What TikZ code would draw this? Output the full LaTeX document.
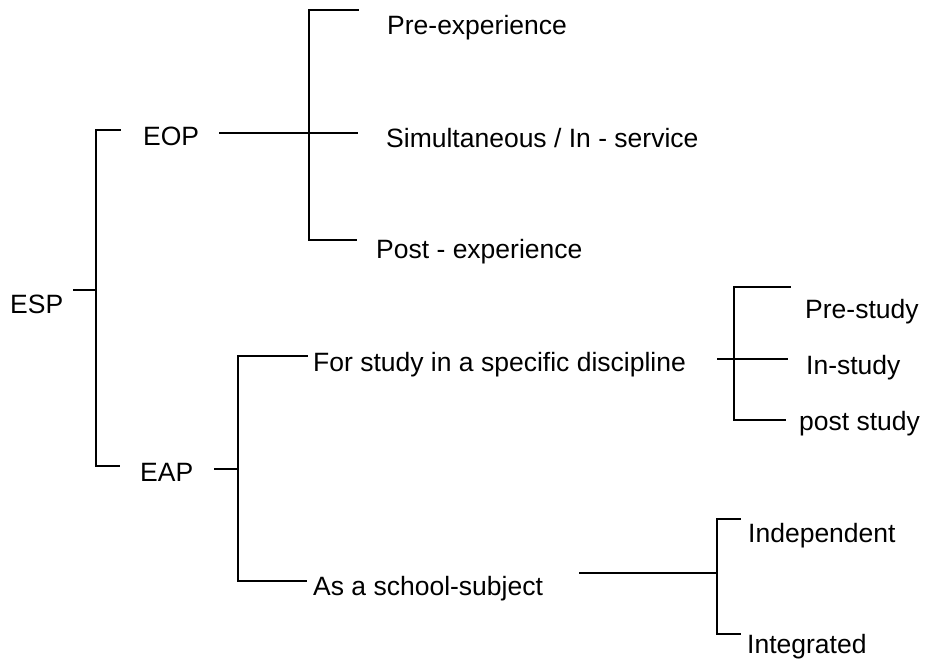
\documentclass[tikz,border=0pt]{standalone}
\usepackage{fontspec}
\setmainfont{Liberation Sans}
\begin{document}
\begin{tikzpicture}[x=1pt,y=-1pt,
  conn/.style={line width=1.6pt, line cap=rect},
  txt/.style={anchor=base west, inner sep=0pt, font=\fontsize{26.5}{30}\selectfont}]
\useasboundingbox (0,0) rectangle (927,661);
% text nodes
\node[txt] (esp) at (10,313) {ESP};
\node[txt] (eop) at (143,146) {EOP};
\node[txt] (eap) at (140,481) {EAP};
\node[txt] (pre) at (387,35) {Pre-experience};
\node[txt] (sim) at (386,147) {Simultaneous / In - service};
\node[txt] (post) at (376,258) {Post - experience};
\node[txt] (fsd) at (313,371) {For study in a specific discipline};
\node[txt] (asc) at (313,595) {As a school-subject};
\node[txt] (prs) at (805,318) {Pre-study};
\node[txt] (ins) at (806,374) {In-study};
\node[txt] (pos) at (799,430) {post study};
\node[txt] (ind) at (748,542) {Independent};
\node[txt] (int) at (747,653) {Integrated};
% ESP bracket
\coordinate (espR) at (74,290);
\coordinate (espJ) at (96,290);
\coordinate (b1t) at (96,130);
\coordinate (b1b) at (96,466);
\coordinate (eopL) at (120,130);
\coordinate (eapL) at (119,466);
\draw[conn] (espR) -- (espJ);
\draw[conn] (eopL) -- (b1t) -- (b1b) -- (eapL);
% EOP bracket
\coordinate (eopR) at (220,133);
\coordinate (simL) at (357,133);
\coordinate (b2t) at (309,10);
\coordinate (b2b) at (309,240);
\coordinate (preL) at (358,10);
\coordinate (postL) at (356,240);
\draw[conn] (eopR) -- (simL);
\draw[conn] (preL) -- (b2t) -- (b2b) -- (postL);
% EAP bracket
\coordinate (eapR) at (215,469);
\coordinate (b3j) at (238,469);
\coordinate (b3t) at (238,356);
\coordinate (b3b) at (238,581);
\coordinate (fsdL) at (307,356);
\coordinate (ascL) at (306,581);
\draw[conn] (eapR) -- (b3j);
\draw[conn] (fsdL) -- (b3t) -- (b3b) -- (ascL);
% study bracket
\coordinate (fsdR) at (718,359);
\coordinate (insL) at (787,359);
\coordinate (b4t) at (734,287);
\coordinate (b4b) at (734,420);
\coordinate (prsL) at (790,287);
\coordinate (posL) at (785,420);
\draw[conn] (fsdR) -- (insL);
\draw[conn] (prsL) -- (b4t) -- (b4b) -- (posL);
% school-subject bracket
\coordinate (ascR) at (580,573);
\coordinate (b5j) at (717,573);
\coordinate (b5t) at (717,519);
\coordinate (b5b) at (717,634);
\coordinate (indL) at (740,519);
\coordinate (intL) at (740,634);
\draw[conn] (ascR) -- (b5j);
\draw[conn] (indL) -- (b5t) -- (b5b) -- (intL);
\end{tikzpicture}
\end{document}
